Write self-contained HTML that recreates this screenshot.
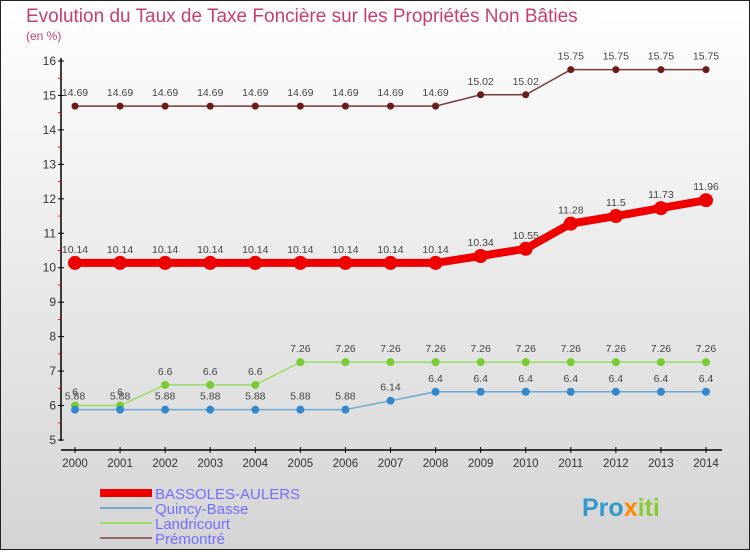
<!DOCTYPE html>
<html><head><meta charset="utf-8"><style>
body{margin:0}
svg text{font-family:"Liberation Sans",sans-serif}
</style></head><body>
<svg width="750" height="550" viewBox="0 0 750 550" xmlns="http://www.w3.org/2000/svg">
<defs><linearGradient id="bg" x1="0" y1="0" x2="0" y2="1"><stop offset="0" stop-color="#ffffff"/><stop offset="1" stop-color="#d4d4d4"/></linearGradient></defs>
<rect x="0.5" y="0.5" width="749" height="549" fill="url(#bg)" stroke="#222"/>
<text x="26" y="22" font-size="19" fill="#c8406a">Evolution du Taux de Taxe Foncière sur les Propriétés Non Bâties</text>
<text x="26" y="40" font-size="12" fill="#c8406a">(en %)</text>
<g id="axes"></g>
<g id="series"></g>
<g>
<rect x="100" y="489" width="52" height="8" fill="#ee0000"/>
<text x="155" y="499" font-size="15" fill="#7070ff">BASSOLES-AULERS</text>
<line x1="100" y1="508" x2="152" y2="508" stroke="#6fa8d0" stroke-width="2"/>
<text x="155" y="514" font-size="15" fill="#7070ff">Quincy-Basse</text>
<line x1="100" y1="523" x2="152" y2="523" stroke="#99dd66" stroke-width="2"/>
<text x="155" y="529" font-size="15" fill="#7070ff">Landricourt</text>
<line x1="100" y1="538" x2="152" y2="538" stroke="#996666" stroke-width="2"/>
<text x="155" y="544" font-size="15" fill="#7070ff">Prémontré</text>
</g>
<text x="582" y="516" font-size="25" font-weight="bold" fill="#3399cc">Pro<tspan fill="#ff8800">x</tspan><tspan fill="#88cc33">iti</tspan></text>
</svg>
<script>
const years=[2000,2001,2002,2003,2004,2005,2006,2007,2008,2009,2010,2011,2012,2013,2014];
const yTicks=[5,6,7,8,9,10,11,12,13,14,15,16];
const bassoles=[10.14,10.14,10.14,10.14,10.14,10.14,10.14,10.14,10.14,10.34,10.55,11.28,11.5,11.73,11.96];
const quincy=[5.88,5.88,5.88,5.88,5.88,5.88,5.88,6.14,6.4,6.4,6.4,6.4,6.4,6.4,6.4];
const landricourt=[6,6,6.6,6.6,6.6,7.26,7.26,7.26,7.26,7.26,7.26,7.26,7.26,7.26,7.26];
const premontre=[14.69,14.69,14.69,14.69,14.69,14.69,14.69,14.69,14.69,15.02,15.02,15.75,15.75,15.75,15.75];
const NS='http://www.w3.org/2000/svg';
function xs(i){return 75+i*(706-75)/(years.length-1);}
function ys(v){return 440-(v-5)*(440-61)/11;}
function mk(tag,attrs,parent,text){const e=document.createElementNS(NS,tag);for(const k in attrs)e.setAttribute(k,attrs[k]);if(text!==undefined)e.textContent=text;parent.appendChild(e);return e;}
const ax=document.getElementById('axes');
let l=mk('line',{x1:61,y1:58,x2:61,y2:441,stroke:'#000','stroke-width':1.5},ax);


l=mk('line',{x1:61,y1:450,x2:722,y2:450,stroke:'#000','stroke-width':1.5},ax);


yTicks.forEach((v,i)=>{
 mk('line',{x1:58,y1:ys(v),x2:64,y2:ys(v),stroke:'#000'},ax);
 if(i<yTicks.length-1) mk('line',{x1:58,y1:ys(v+0.5),x2:61,y2:ys(v+0.5),stroke:'#ff0000'},ax);
 const t=mk('text',{x:56,y:ys(v)+4,'font-size':12,'text-anchor':'end',fill:'#333'},ax,String(v));
 
 
});
years.forEach((y,i)=>{
 mk('line',{x1:xs(i),y1:447,x2:xs(i),y2:453,stroke:'#000'},ax);
 const t=mk('text',{x:xs(i),y:467,'font-size':11.5,'text-anchor':'middle',fill:'#333'},ax,String(y));
 
 
});
const sg=document.getElementById('series');
function series(data,name,color,lw,r,fill,labels){
 const g=mk('g',{},sg);
 
 
 const p=mk('polyline',{points:data.map((v,i)=>xs(i)+','+ys(v)).join(' '),fill:'none',stroke:color,'stroke-width':lw},g);
 
 
 data.forEach((v,i)=>{
  const c=mk('circle',{cx:xs(i),cy:ys(v),r:r,fill:fill},g);
  
  
  if(labels){const t=mk('text',{x:xs(i),y:ys(v)-10,'font-size':10.5,'text-anchor':'middle',fill:'#444'},g,String(v));
  
  }
 });
}
series(premontre,'premontre-series','#7a3a3a',1.5,3.5,'#6b1a1a',true);
series(landricourt,'landricourt-series','#99dd66',1.5,4,'#77cc33',true);
series(quincy,'quincy-series','#6fa8d0',1.5,4,'#3388cc',true);
series(bassoles,'bassoles-series','#ee0000',8,7,'#ee0000',true);
</script>
</body></html>
